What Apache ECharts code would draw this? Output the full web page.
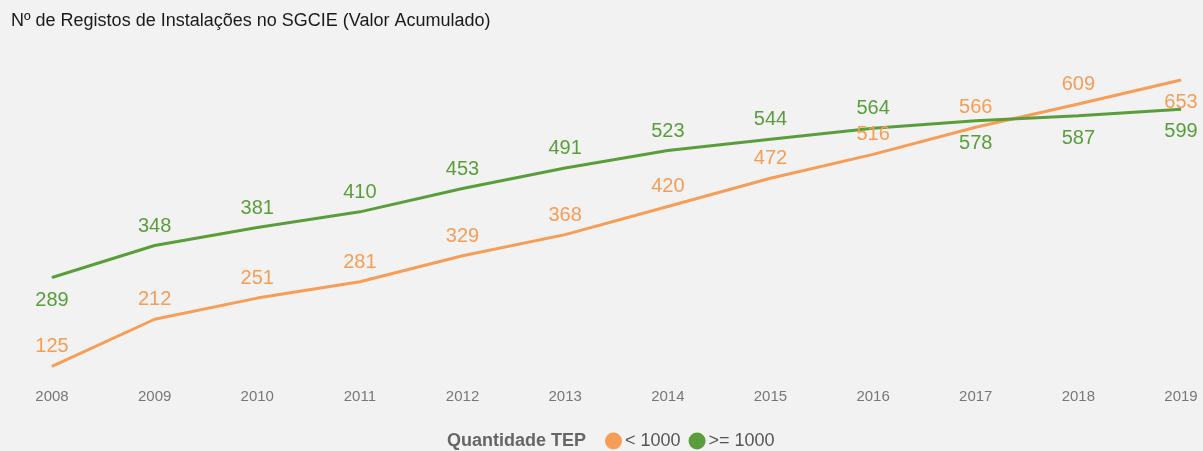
<!DOCTYPE html>
<html>
<head>
<meta charset="utf-8">
<script src="https://cdn.jsdelivr.net/npm/echarts@6/dist/echarts.min.js"></script>
<style>
  html, body { margin: 0; padding: 0; background: #f2f2f2; }
  #chart { width: 1203px; height: 451px; }
</style>
</head>
<body>
<div id="chart"></div>
<script>
// dados
const years = ['2008', '2009', '2010', '2011', '2012', '2013', '2014', '2015', '2016', '2017', '2018', '2019'];
const under1000 = [125, 212, 251, 281, 329, 368, 420, 472, 516, 566, 609, 653];
const over1000 = [289, 348, 381, 410, 453, 491, 523, 544, 564, 578, 587, 599];
// posicao das etiquetas
const under1000Pos = ['top', 'top', 'top', 'top', 'top', 'top', 'top', 'top', 'top', 'top', 'top', 'bottom'];
const over1000Pos = ['bottom', 'top', 'top', 'top', 'top', 'top', 'top', 'top', 'top', 'bottom', 'bottom', 'bottom'];

const orange = '#f79d55';
const green = '#5a9e3b';

function withPos (vals, pos) {
  return vals.map(function (v, i) {
    return { value: v, label: { position: pos[i], distance: pos[i] === 'bottom' ? 12 : 9 } };
  });
}

let myChart = echarts.init(document.getElementById('chart'));
let option = {
  backgroundColor: '#f2f2f2',
  textStyle: { fontFamily: 'Liberation Sans, Arial, sans-serif' },
  title: [
    {
      text: 'Nº de Registos de Instalações no SGCIE (Valor Acumulado)',
      left: 6,
      top: 7,
      textStyle: { fontSize: 18, fontWeight: 'normal', color: '#1a1a1a' }
    },
    {
      text: 'Quantidade TEP',
      left: 442,
      top: 427,
      textStyle: { fontSize: 18, fontWeight: 'bold', color: '#666' }
    }
  ],
  legend: {
    left: 600,
    top: 427,
    icon: 'circle',
    itemWidth: 17,
    itemHeight: 17,
    itemGap: 8,
    textStyle: { fontSize: 18, color: '#555', padding: [0, 0, 0, -2] },
    data: ['< 1000', '>= 1000']
  },
  grid: {
    left: 52,
    right: 22,
    top: 41,
    bottom: 71
  },
  xAxis: {
    type: 'category',
    boundaryGap: false,
    data: years,
    axisLine: { show: false },
    axisTick: { show: false },
    axisLabel: { color: '#777', fontSize: 15, margin: 9 }
  },
  yAxis: {
    type: 'value',
    min: 100,
    max: 725,
    show: false
  },
  series: [
    {
      name: '< 1000',
      type: 'line',
      data: withPos(under1000, under1000Pos),
      color: orange,
      showSymbol: true,
      symbol: 'circle',
      symbolSize: 1,
      lineStyle: { width: 3 },
      label: { show: true, fontSize: 20, color: orange }
    },
    {
      name: '>= 1000',
      type: 'line',
      data: withPos(over1000, over1000Pos),
      color: green,
      showSymbol: true,
      symbol: 'circle',
      symbolSize: 1,
      lineStyle: { width: 3 },
      label: { show: true, fontSize: 20, color: green }
    }
  ]
};
myChart.setOption(option);
window.addEventListener('resize', function () { myChart.resize() })
</script>
</body>
</html>
